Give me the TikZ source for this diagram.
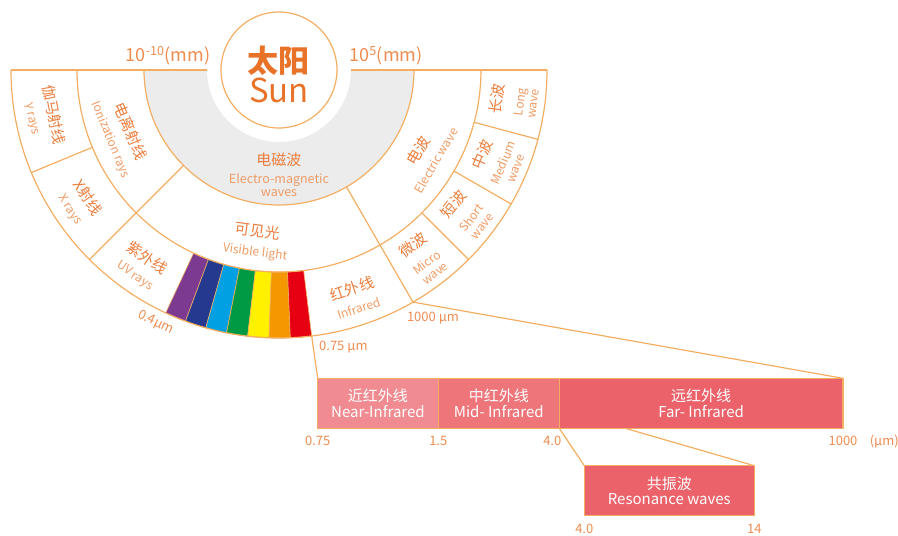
\documentclass[tikz,border=0pt]{standalone}
\usepackage{fontspec}
\setmainfont{Noto Sans CJK SC}
\usetikzlibrary{positioning}

\definecolor{linecol}{RGB}{244,174,98}
\definecolor{zhcol}{RGB}{235,125,60}
\definecolor{encol}{RGB}{240,155,100}
\definecolor{suncol}{RGB}{232,115,40}
\definecolor{tickcol}{RGB}{238,140,80}
\definecolor{greyband}{RGB}{236,236,236}
\definecolor{nearcol}{RGB}{240,140,145}
\definecolor{midcol}{RGB}{238,118,123}
\definecolor{farcol}{RGB}{236,98,106}
\definecolor{rbviolet}{RGB}{125,58,145}
\definecolor{rbindigo}{RGB}{37,57,142}
\definecolor{rbblue}{RGB}{0,160,226}
\definecolor{rbgreen}{RGB}{0,153,68}
\definecolor{rbyellow}{RGB}{255,241,0}
\definecolor{rborange}{RGB}{243,152,0}
\definecolor{rbred}{RGB}{230,0,18}

\newcommand\zh{\fontsize{15}{17}\selectfont\color{zhcol}}

\tikzset{
  ring/.style={draw=linecol, line width=1.2pt},
  ringlab/.style={align=center, inner sep=0pt, rotate=#1-270, text=encol,
    font=\fontsize{12}{13.5}\selectfont},
  band/.style={draw=linecol, line width=1.2pt, minimum height=50pt, inner sep=0pt,
    outer sep=0pt, text=white, align=center, font=\fontsize{15}{15.5}\selectfont},
  tick/.style={inner sep=0pt, text=tickcol, font=\fontsize{13}{13}\selectfont}
}

\begin{document}
\begin{tikzpicture}[x=1pt,y=1pt]
  \useasboundingbox (-279,-466) rectangle (619,70);
  % half rings
  \fill[greyband] (180:135) arc (180:360:135) -- (0:72) arc (360:180:72) -- cycle;
  \foreach \c [count=\i from 0] in {rbviolet,rbindigo,rbblue,rbgreen,rbyellow,rborange,rbred}{
    \pgfmathsetmacro\a{245+32/7*\i}
    \pgfmathsetmacro\b{245+32/7*(\i+1)}
    \filldraw[fill=\c, draw=linecol, line width=0.6pt] (\a:202) arc (\a:\b:202) -- (\b:268) arc (\b:\a:268) -- cycle;
  }
  \draw[ring] (180:135) arc (180:360:135);
  \draw[ring] (180:202) arc (180:360:202);
  \draw[ring] (180:268) arc (180:360:268);
  \draw[ring] (180:268) -- (180:72);
  \draw[ring] (0:72) -- (0:268);
  \foreach \a in {202.5,315,330,345} \draw[ring] (\a:202) -- (\a:268);
  \foreach \a in {225,300} \draw[ring] (\a:135) -- (\a:268);
  \draw[ring] (0,0) circle (58);

  \node[font=\fontsize{31}{31}\selectfont\bfseries, text=suncol] (sunzh) at (0,9.5) {太阳};
  \node[font=\fontsize{33}{33}\selectfont, text=suncol] (sunen) at (0,-20) {Sun};
  \node[font=\fontsize{18}{18}\selectfont, text=tickcol, inner sep=0pt] (lowend) at (-111,14) {10\textsuperscript{-10}(mm)};
  \node[font=\fontsize{18}{18}\selectfont, text=tickcol, inner sep=0pt] (highend) at (107,14) {10\textsuperscript{5}(mm)};

  % labels in the rings
  \node[align=center, inner sep=0pt, text=encol, font=\fontsize{12.5}{13.5}\selectfont] (emw) at (0,-105) {{\zh 电磁波}\\[4pt]Electro-magnetic\\waves};
  \node[ringlab=202.5] (ion) at (202.5:171) {{\zh 电离射线}\\[6pt]Ionization rays};
  \node[ringlab=262.5] (vis) at (262.5:173) {{\zh 可见光}\\[6pt]Visible light};
  \node[ringlab=330] (elw) at (330:170) {{\zh 电波}\\[6pt]Electric wave};
  \node[ringlab=191.25] (gam) at (191.25:240) {{\zh 伽马射线}\\[6pt]γ rays};
  \node[ringlab=213.75] (xr) at (213.75:240) {{\zh X射线}\\[6pt]X rays};
  \node[ringlab=235] (uv) at (235:240) {{\zh 紫外线}\\[6pt]UV rays};
  \node[ringlab=288.5] (ir) at (288.5:240) {{\zh 红外线}\\[6pt]Infrared};
  \node[ringlab=307.5] (mw) at (307.5:237) {{\zh 微波}\\[8pt]Micro\\wave};
  \node[ringlab=322.5] (sw) at (322.5:237) {{\zh 短波}\\[8pt]Short\\wave};
  \node[ringlab=337.5] (medw) at (337.5:237) {{\zh 中波}\\[8pt]Medium\\wave};
  \node[ringlab=352.5] (lw) at (352.5:237) {{\zh 长波}\\[8pt]Long\\wave};

  \node[tick, rotate=-26] (l04) at (244:281) {0.4µm};
  \node[tick, anchor=west] (l075) at (40,-277.5) {0.75 µm};
  \node[tick] (l1000) at (154,-248) {1000 µm};

  % infrared bands
  \node[band, fill=nearcol, minimum width=120.6pt, anchor=north west] (near) at (38.7,-308.3) {近红外线\\Near-Infrared};
  \node[band, fill=midcol, minimum width=121pt, right=0pt of near] (mid) {中红外线\\Mid- Infrared};
  \node[band, fill=farcol, minimum width=283.7pt, right=0pt of mid] (far) {远红外线\\Far- Infrared};
  \node[band, fill=farcol, minimum width=170pt, anchor=north west] (reso) at (305.3,-395.7) {共振波\\Resonance waves};

  \node[tick] (t075) at ([yshift=-12.7pt]near.south west) {0.75};
  \node[tick] (t15) at ([yshift=-12.7pt]near.south east) {1.5};
  \node[tick] (t40) at ([xshift=-7pt,yshift=-12.7pt]mid.south east) {4.0};
  \node[tick] (t1000) at ([yshift=-12.7pt]far.south east) {1000};
  \node[tick, right=12pt of t1000] (unit) {(µm)};
  \node[tick] (r40) at ([yshift=-13.3pt]reso.south west) {4.0};
  \node[tick] (r14) at ([yshift=-13.3pt]reso.south east) {14};

  % connectors
  \coordinate (ir75) at (277:268);
  \coordinate (ir1000) at (300:268);
  \coordinate (farcut) at ([xshift=66pt]far.south west);
  \draw[ring] (ir75) -- (near.north west);
  \draw[ring] (ir1000) -- (far.north east);
  \draw[ring] (far.south west) -- (reso.north west);
  \draw[ring] (farcut) -- (reso.north east);
\end{tikzpicture}
\end{document}
